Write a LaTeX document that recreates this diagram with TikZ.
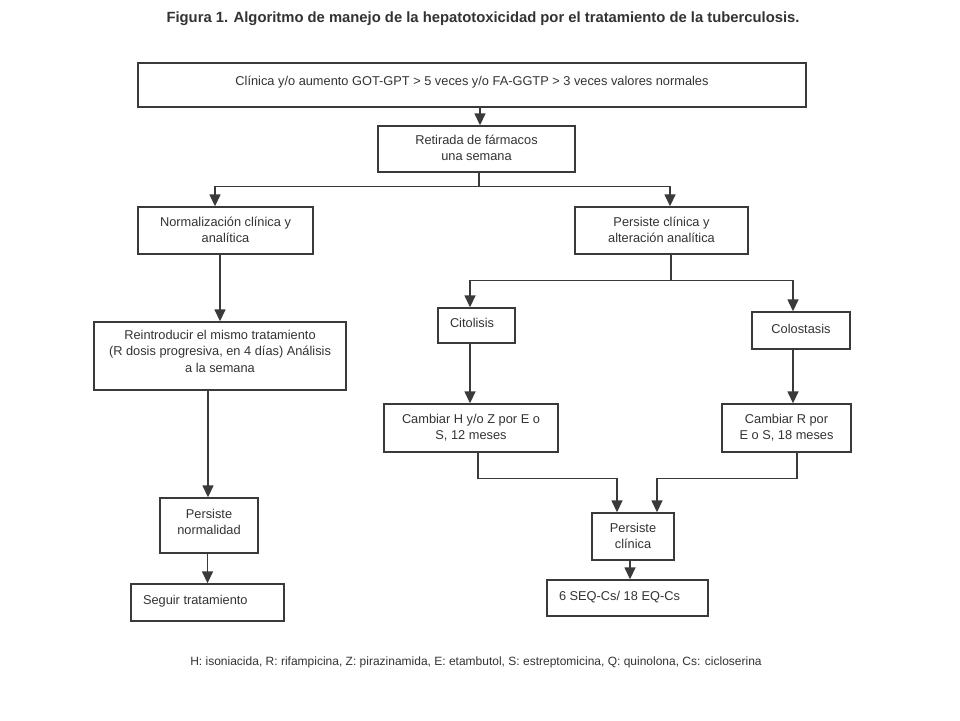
\documentclass[tikz,border=0pt]{standalone}
\usepackage{fontspec}
\setmainfont{Liberation Sans}
\usetikzlibrary{arrows.meta,calc}
\definecolor{ln}{HTML}{3A3A3A}
\definecolor{tx}{HTML}{333333}
\newcommand{\bxc}[4]{\parbox[c][#2][t]{#1}{\centering\vspace*{#3}#4\par}}
\newcommand{\bxl}[4]{\parbox[c][#2][t]{#1}{\raggedright\leftskip=12pt\vspace*{#3}#4\par}}
\begin{document}
\begin{tikzpicture}[x=1pt,y=-1pt,
  box/.style={draw=ln,line width=1.4pt,inner sep=0pt,text=tx,font=\fontsize{12.8}{16.5}\selectfont},
  arr/.style={draw=ln,line width=1.5pt,-{Triangle[width=11pt,length=12pt]}},
  ln/.style={draw=ln,line width=1.5pt}]
\useasboundingbox[fill=white] (0,0) rectangle (960,720);
\node[text=tx,font=\bfseries\fontsize{14.8}{17}\selectfont] (title) at (483,19) {Figura 1. Algoritmo de manejo de la hepatotoxicidad por el tratamiento de la tuberculosis.};
\node[box] (top) at (472,85) {\bxc{668pt}{44pt}{13pt}{Clínica y/o aumento GOT-GPT > 5 veces y/o FA-GGTP > 3 veces valores normales}};
\node[box] (ret) at (476.5,149) {\bxc{197pt}{46pt}{9pt}{Retirada de fármacos\\una semana}};
\node[box] (norm) at (225.5,230.5) {\bxc{175pt}{47pt}{10pt}{Normalización clínica y\\analítica}};
\node[box] (pers) at (661.5,230.5) {\bxc{173pt}{47pt}{10pt}{Persiste clínica y\\alteración analítica}};
\node[box] (rein) at (220,356) {\bxc{252pt}{68pt}{8pt}{Reintroducir el mismo tratamiento\\(R dosis progresiva, en 4 días) Análisis\\a la semana}};
\node[box] (cito) at (476.5,325.5) {\bxl{77pt}{35pt}{10pt}{Citolisis}};
\node[box] (colo) at (801,330.5) {\bxc{98pt}{37pt}{12pt}{Colostasis}};
\node[box] (camH) at (471,428) {\bxc{174pt}{48pt}{10pt}{Cambiar H y/o Z por E o\\S, 12 meses}};
\node[box] (camR) at (786.5,428) {\bxc{129pt}{48pt}{10pt}{Cambiar R por\\E o S, 18 meses}};
\node[box] (pnorm) at (209,525.5) {\bxc{98pt}{55pt}{11pt}{Persiste\\normalidad}};
\node[box] (seg) at (207.5,602.5) {\bxl{153pt}{37pt}{11pt}{Seguir tratamiento}};
\node[box] (pcli) at (633,536.5) {\bxc{82pt}{47pt}{10pt}{Persiste\\clínica}};
\node[box] (six) at (627.5,598) {\bxl{161pt}{36pt}{11pt}{6 SEQ-Cs/ 18 EQ-Cs}};
\node[text=tx,font=\fontsize{12}{14}\selectfont] (foot) at (476,662) {H: isoniacida, R: rifampicina, Z: pirazinamida, E: etambutol, S: estreptomicina, Q: quinolona, Cs: cicloserina};
% connectors
\coordinate (a1) at ($(ret.north)+(3.5,0)$);
\draw[arr] (top.south -| a1) -- (a1);
\coordinate (j1) at ($(ret.south)+(2.5,14)$);
\coordinate (nL) at ($(norm.north)+(-10.5,0)$);
\coordinate (pR) at ($(pers.north)+(8.5,0)$);
\draw[ln] (ret.south -| j1) -- (j1);
\draw[arr] (j1) -| (nL);
\draw[arr] (j1) -| (pR);
\draw[arr] (norm.south -| rein.north) -- (rein.north);
\coordinate (j2) at ($(pers.south)+(9.5,26)$);
\coordinate (cL) at ($(cito.north)+(-6.5,0)$);
\coordinate (cR) at ($(colo.north)+(-8,0)$);
\draw[ln] (pers.south -| j2) -- (j2);
\draw[arr] (j2) -| (cL);
\draw[arr] (j2) -| (cR);
\draw[arr] (cL |- cito.south) -- (camH.north -| cL);
\draw[arr] (cR |- colo.south) -- (camR.north -| cR);
\coordinate (r1) at ($(pnorm.north)+(-1,0)$);
\draw[arr] (rein.south -| r1) -- (r1);
\draw[arr] (pnorm.south -| seg.north) -- (seg.north);
\coordinate (h1) at ($(camH.south)+(7,26)$);
\coordinate (h2) at ($(camR.south)+(10.5,26)$);
\coordinate (pL) at ($(pcli.north)+(-16,0)$);
\coordinate (pRR) at ($(pcli.north)+(24,0)$);
\draw[ln] (camH.south -| h1) -- (h1);
\draw[arr] (h1) -| (pL);
\draw[ln] (camR.south -| h2) -- (h2);
\draw[arr] (h2) -| (pRR);
\draw[arr] (pcli.south -| six.north) ++(2.5,0) coordinate (s0) (s0) -- (six.north -| s0);
\end{tikzpicture}
\end{document}
